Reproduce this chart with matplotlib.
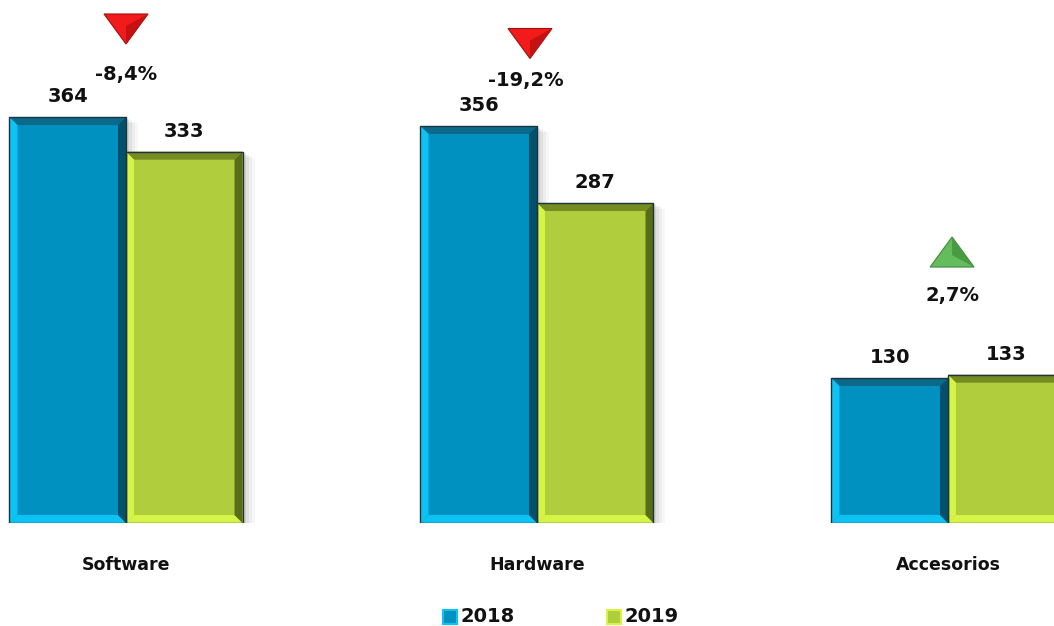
import matplotlib.pyplot as plt
from matplotlib.patches import Polygon, Rectangle

categorias = ["Software", "Hardware", "Accesorios"]
anios = ["2018", "2019"]
valores_2018 = [364, 356, 130]
valores_2019 = [333, 287, 133]
variacion = ["-8,4%", "-19,2%", "2,7%"]
sube = [False, False, True]

# colores: base, claro (izq/abajo), oscuro (arriba), muy oscuro (derecha)
col_2018 = ["#0191c1", "#0cc3f3", "#0b6a8a", "#02506b"]
col_2019 = ["#afcd3c", "#d6f445", "#768c22", "#5a6c17"]

fig = plt.figure(figsize=(10.54, 6.26), dpi=100)
ax = fig.add_axes([0, 0.1645, 1, 0.8355])
ax.set_xlim(-0.3066, 2.258)
ax.set_ylim(0, 469)
ax.axis("off")

ancho = 0.2835
bx = 8 / 411      # bisel horizontal
by = 8 / 1.115    # bisel vertical


def barra(x0, h, c):
    x1 = x0 + ancho
    # sombra
    for k, a in [(12, 0.03), (9, 0.04), (6, 0.05), (3, 0.07)]:
        ax.add_patch(Rectangle((x0 + k / 411, -k / 1.115 * 0.3), ancho, h - k / 1.115 * 0.2,
                               fc="#000000", ec="none", alpha=a, zorder=1))
    ax.add_patch(Rectangle((x0, 0), ancho, h, fc=c[0], ec="none", zorder=2))
    ax.add_patch(Polygon([(x0, h), (x1, h), (x1 - bx, h - by), (x0 + bx, h - by)],
                         fc=c[2], ec="none", zorder=3))
    ax.add_patch(Polygon([(x0, 0), (x0, h), (x0 + bx, h - by), (x0 + bx, by)],
                         fc=c[1], ec="none", zorder=3))
    ax.add_patch(Polygon([(x0, 0), (x1, 0), (x1 - bx, by), (x0 + bx, by)],
                         fc=c[1], ec="none", zorder=3))
    ax.add_patch(Polygon([(x1, 0), (x1, h), (x1 - bx, h - by), (x1 - bx, by)],
                         fc=c[3], ec="none", zorder=3))
    ax.add_patch(Rectangle((x0, 0), ancho, h, fc="none", ec="#1c3440", lw=1.0, zorder=4))
    ax.text(x0 + ancho / 2, h + 10, str(h), ha="center", va="bottom",
            fontsize=14, fontweight="bold", color="#111111", zorder=5)


for i in range(len(categorias)):
    barra(i - ancho, valores_2018[i], col_2018)
    barra(i, valores_2019[i], col_2019)

# triangulos y variaciones
tri_y = [443, 430, 243]
txt_y = [402, 397, 204]
tri_x = [0, -0.017, 0.01]
hw = 22 / 411
hh = 15 / 1.115
for i in range(len(categorias)):
    cx = i + tri_x[i]
    cy = tri_y[i]
    if sube[i]:
        pts = [(cx - hw, cy - hh), (cx + hw, cy - hh), (cx, cy + hh)]
        dark = [(cx, cy - hh * 0.2), (cx + hw, cy - hh), (cx, cy + hh)]
        fc, fd, ec = "#62bd5a", "#4a9a44", "#3f8a3f"
    else:
        pts = [(cx - hw, cy + hh), (cx + hw, cy + hh), (cx, cy - hh)]
        dark = [(cx, cy + hh * 0.2), (cx + hw, cy + hh), (cx, cy - hh)]
        fc, fd, ec = "#f21a1a", "#c41212", "#a01010"
    ax.add_patch(Polygon(pts, fc=fc, ec=ec, lw=0.8, zorder=5, clip_on=False))
    ax.add_patch(Polygon(dark, fc=fd, ec="none", zorder=6, clip_on=False))
    ax.text(cx - (0.01 if i == 1 else 0), txt_y[i], variacion[i], ha="center", va="center",
            fontsize=14, fontweight="bold", color="#111111")

for i, cat in enumerate(categorias):
    ax.text(i, -38, cat, ha="center", va="center",
            fontsize=12.5, fontweight="bold", color="#111111", clip_on=False)

# leyenda
for j, (lab, c) in enumerate(zip(anios, [col_2018, col_2019])):
    lx = 443 / 1054 + j * 164 / 1054
    fig.patches.append(Rectangle((lx, 2 / 626), 14 / 1054, 14 / 626, transform=fig.transFigure,
                                 fc=c[0], ec=c[1], lw=1.5))
    fig.text(lx + 18 / 1054, 9 / 626, lab, ha="left", va="center",
             fontsize=14, fontweight="bold", color="#111111")

fig.savefig("out.png", dpi=100)
